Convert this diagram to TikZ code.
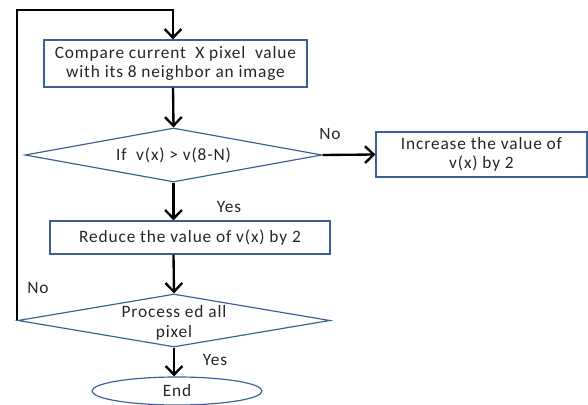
\documentclass[tikz,border=0pt]{standalone}
\usepackage{fontspec}
\setmainfont{Carlito}[LetterSpace=5]
\usetikzlibrary{arrows.meta,shapes.geometric}
\definecolor{flowblue}{RGB}{60,96,150}
\tikzset{
  every node/.style={font=\fontsize{14.8}{16.5}\selectfont, text=black!85},
  procbox/.style={draw=flowblue, line width=1pt, rectangle, inner sep=0pt, align=center},
  decision/.style={draw=flowblue, line width=1pt, diamond, inner sep=0pt, aspect=5.5},
  terminal/.style={draw=flowblue, line width=1pt, ellipse, inner sep=0pt},
  conn/.style={line width=2pt, draw=black, -{Straight Barb[length=2.6mm,width=5mm,line width=2pt]}},
  edgelabel/.style={inner sep=0pt}
}
\begin{document}
\begin{tikzpicture}[x=0.03cm, y=-0.03cm]
  \useasboundingbox (0,0) rectangle (588,405);
  % process boxes
  \node[procbox, minimum width=7.89cm, minimum height=1.41cm] (b1) at (175.5,63.5)
    {Compare current\ \ X pixel\ \ value\\with its 8 neighbor an image};
  \node[decision, minimum width=8.91cm, minimum height=1.62cm] (d1) at (173.5,155)
    {};
  \node[edgelabel] at (d1.center) {If\ \ v(x) > v(8-N)};
  \node[procbox, minimum width=6.33cm, minimum height=1.35cm] (b2) at (481.5,154.5)
    {Increase the value of\\v(x) by 2};
  \node[procbox, minimum width=8.4cm, minimum height=0.99cm] (b3) at (190,237.5)
    {Reduce the value of v(x) by 2};
  \node[decision, minimum width=9.36cm, minimum height=1.59cm] (d2) at (174,320.5)
    {};
  \node[edgelabel, align=center] at ([yshift=-2pt]d2.center) {Process ed all\\pixel};
  \node[terminal, minimum width=5.1cm, minimum height=0.84cm] (e) at (177,391) {End};
  \coordinate (looptop) at (173,10);

  % connectors
  \draw[conn] (b1.south -| looptop) -- (d1.north);
  \draw[conn] (d1.east) -- (b2.west);
  \draw[conn] (d1.south) -- (b3.north -| d1.south);
  \draw[conn] (b3.south -| d1.south) -- (d2.north);
  \draw[conn] (d2.south) -- (e.north -| d2.south);
  \draw[conn] ([xshift=-0.5pt]d2.west) -- ([xshift=-0.5pt]d2.west |- looptop) -- (looptop) -- (b1.north -| looptop);

  % labels
  \node[edgelabel] at (330,134) {No};
  \node[edgelabel] at (229,207) {Yes};
  \node[edgelabel] at (38,288) {No};
  \node[edgelabel] at (215,360) {Yes};
\end{tikzpicture}
\end{document}
